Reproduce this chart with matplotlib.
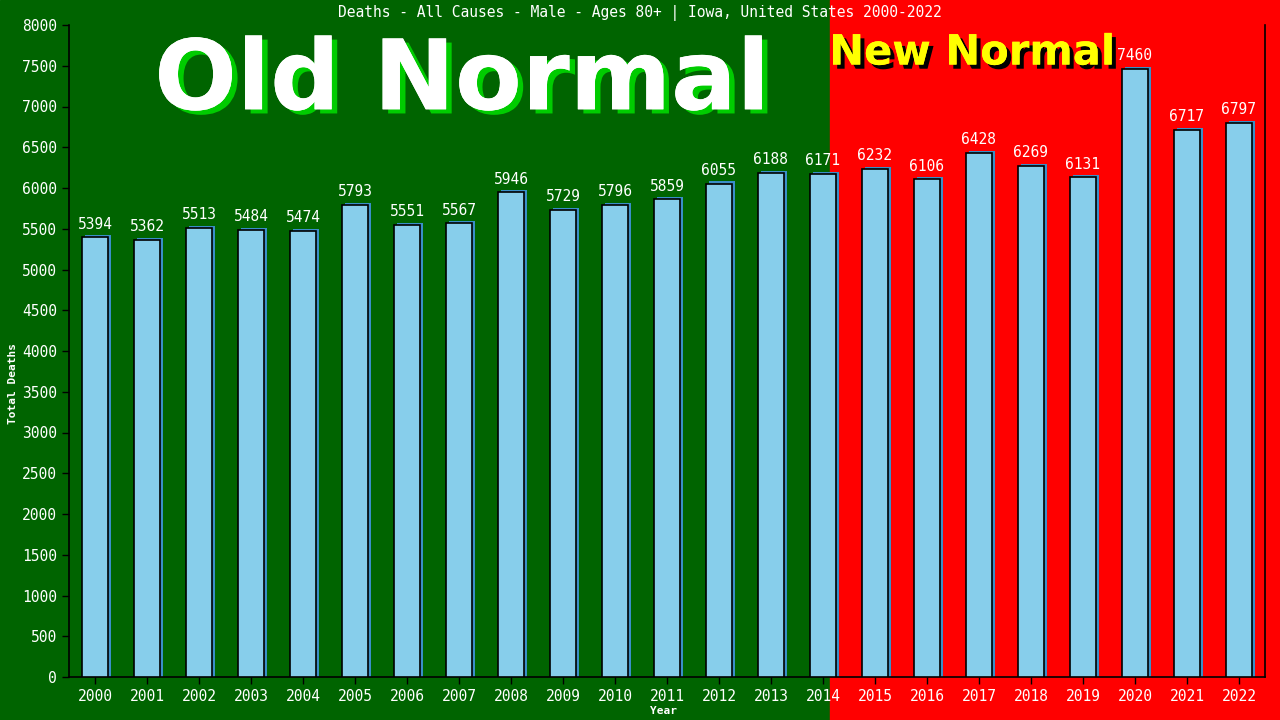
import matplotlib.pyplot as plt
import matplotlib.patheffects as pe

years = [str(y) for y in range(2000, 2023)]
deaths = [5394, 5362, 5513, 5484, 5474, 5793, 5551, 5567, 5946, 5729, 5796, 5859,
          6055, 6188, 6171, 6232, 6106, 6428, 6269, 6131, 7460, 6717, 6797]
title = "Deaths - All Causes - Male - Ages 80+ | Iowa, United States 2000-2022"

green = "#006400"
red = "#ff0000"
mono = "DejaVu Sans Mono"

fig = plt.figure(figsize=(12.8, 7.2), dpi=100)

# background: green "old normal", red "new normal" (with their big labels)
bg = fig.add_axes([0, 0, 1, 1], zorder=-1)
bg.set_xlim(0, 1280)
bg.set_ylim(0, 720)
bg.axvspan(0, 830, color=green)
bg.axvspan(830, 1280, color=red)
bg.axis("off")

bg.text(462, 0.885 * 720, "Old Normal", ha="center", va="center",
        color="white", fontsize=70, fontweight="bold", family="DejaVu Sans",
        path_effects=[pe.withSimplePatchShadow(offset=(4, -3),
                                               shadow_rgbFace="#00cc00", alpha=1),
                      pe.Normal()])
bg.text(972, 0.927 * 720, "New Normal", ha="center", va="center",
        color="yellow", fontsize=30, fontweight="bold", family="DejaVu Sans",
        path_effects=[pe.withSimplePatchShadow(offset=(3, -3),
                                               shadow_rgbFace="black", alpha=1),
                      pe.Normal()])

ax = fig.add_axes([69 / 1280, 43 / 720, (1265 - 69) / 1280, (677 - 25) / 720])
ax.patch.set_alpha(0)

x = list(range(len(years)))
# blue shadow behind each bar
ax.bar([i + 0.05 for i in x], [d + 25 for d in deaths], width=0.5,
       color="#3a8fc8", zorder=2)
ax.bar(x, deaths, width=0.5, color="#87ceeb", edgecolor="black",
       linewidth=1.2, zorder=3)

for i, d in zip(x, deaths):
    ax.text(i, d + 70, str(d), ha="center", va="bottom", color="white",
            fontsize=10.5, family=mono, zorder=5)

ax.set_xlim(-0.5, 22.5)
ax.set_ylim(0, 8000)
ax.set_yticks(range(0, 8001, 500))
ax.set_xticks(x)
ax.set_xticklabels(years)
ax.tick_params(colors="white", labelsize=10.5, length=5, width=1)
ax.tick_params(axis="both", color="black")
for lab in ax.get_xticklabels() + ax.get_yticklabels():
    lab.set_family(mono)
    lab.set_color("white")

for s in ["left", "bottom", "right"]:
    ax.spines[s].set_color("black")
    ax.spines[s].set_linewidth(1.2)
ax.spines["top"].set_visible(False)

ax.set_ylabel("Total Deaths", color="white", fontsize=8, family=mono,
              fontweight="bold")
ax.set_xlabel("Year", color="white", fontsize=8, family=mono, fontweight="bold")
ax.yaxis.set_label_coords(-0.043, 0.45)
ax.xaxis.set_label_coords(0.497, -0.045)

fig.text(0.5, 0.982, title, ha="center", va="center", color="white",
         fontsize=10.5, family=mono)

fig.savefig("out.png", dpi=100)
